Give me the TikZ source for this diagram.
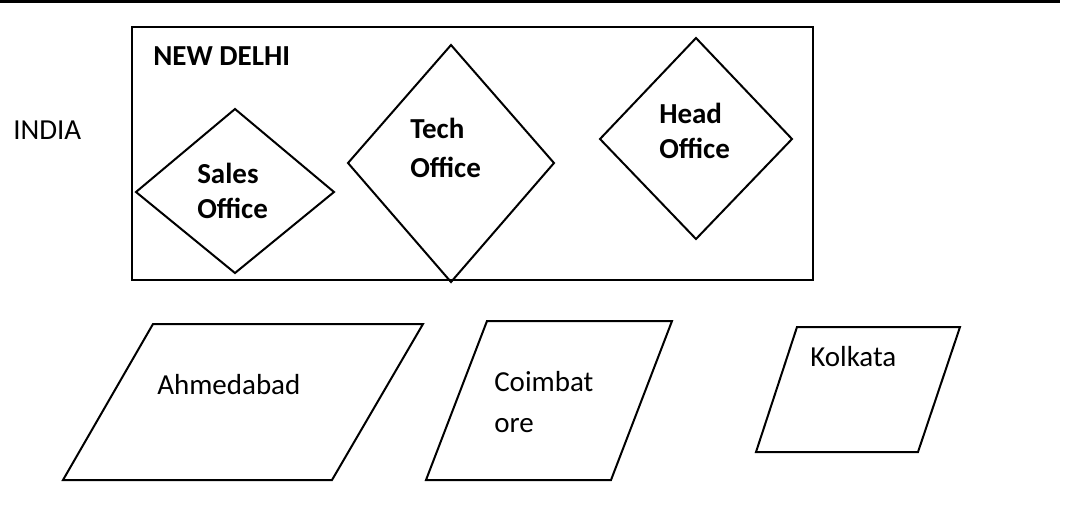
\documentclass[tikz,border=0pt]{standalone}
\usepackage{fontspec}
\setmainfont{Carlito}
\tikzset{
outline/.style={draw, line width=1.5pt, line join=miter}, % border of every box, diamond and slanted box
place/.style={inner sep=0pt, anchor=base west, font=\fontsize{21.75}{26}\selectfont}, % plain city names
office/.style={place, font=\fontsize{21.75}{26}\selectfont\bfseries}, % bold names in the Delhi box
}
\begin{document}
\begin{tikzpicture}[x=0.75pt, y=-0.75pt]
        \useasboundingbox (0,0) rectangle (1072,512);
        \draw[line width=2.25pt] (0,1.5) -- (1060,1.5);

        \node[place] (india) at (13,139) {INDIA};

        % the New Delhi box
        \draw[outline] (132,27) rectangle (813,280);
        \node[office] (delhi) at (153,65) {NEW DELHI};

        \draw[outline] (136,192) -- (235,109) -- (334,192) -- (235,273) -- cycle;
        \node[office] (sales) at (197,183) {Sales};
        \node[office] (salesoff) at (197,218) {Office};

        \draw[outline] (348,163) -- (451,45) -- (554,163) -- (451,282) -- cycle;
        \node[office] (tech) at (410,138) {Tech};
        \node[office] (techoff) at (410,177) {Office};

        \draw[outline] (600,139) -- (696,38) -- (792,139) -- (696,239) -- cycle;
        \node[office] (head) at (659,123) {Head};
        \node[office] (headoff) at (659,158) {Office};

        % the other cities
        \draw[outline] (153,324) -- (423,324) -- (332,480) -- (63,480) -- cycle;
        \node[place] (ahmedabad) at (157,394) {Ahmedabad};

        \draw[outline] (487,321) -- (672,321) -- (611,480) -- (426,480) -- cycle;
        \node[place] (coimbat) at (494,391) {Coimbat};
        \node[place] (ore) at (494,432) {ore};

        \draw[outline] (797,327) -- (960,327) -- (918,452) -- (756,452) -- cycle;
        \node[place] (kolkata) at (810,366) {Kolkata};
    \end{tikzpicture}
\end{document}
